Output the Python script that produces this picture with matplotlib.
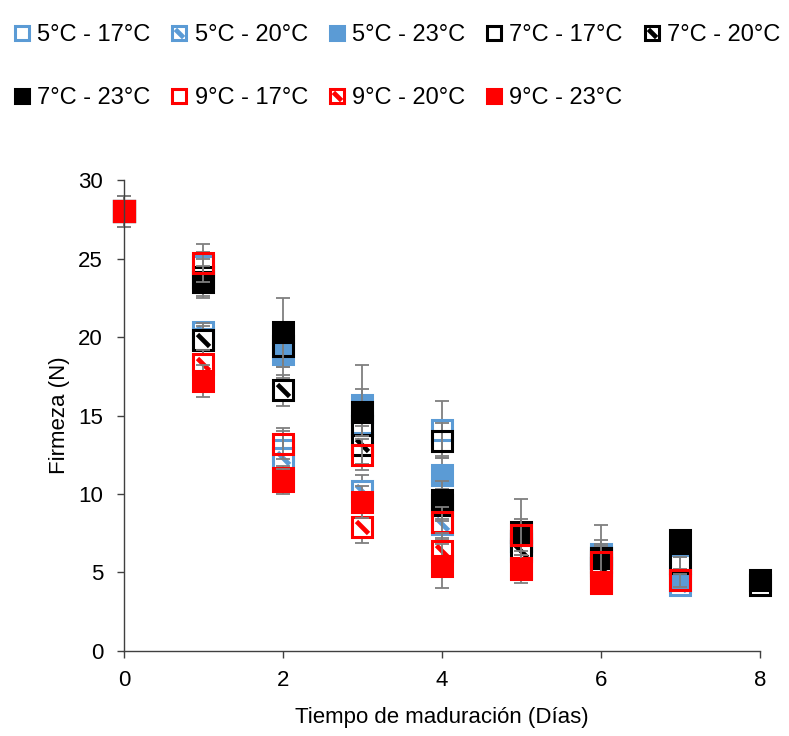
import numpy as np
import matplotlib
matplotlib.use('Agg')
import matplotlib.pyplot as plt
from matplotlib.path import Path

plt.rcParams['font.family'] = ['Liberation Sans', 'DejaVu Sans']

# Tratamientos (conservación - maduración)
labels = ['5°C - 17°C', '5°C - 20°C', '5°C - 23°C',
          '7°C - 17°C', '7°C - 20°C', '7°C - 23°C',
          '9°C - 17°C', '9°C - 20°C', '9°C - 23°C']

dias = [0, 1, 2, 3, 4, 5, 6, 7, 8]
nan = np.nan

# firmeza media (N)
f_5_17 = [28.0, 24.5, 12.8, 14.5, 14.1, 6.8, 5.8, 5.5, nan]
f_5_20 = [28.0, 20.3, 12.3, 10.2, 8.1, 6.5, 5.5, 4.2, nan]
f_5_23 = [28.0, 19.9, 18.9, 15.7, 11.2, 7.0, 6.2, 4.5, nan]
f_7_17 = [28.0, 23.8, 19.4, 14.3, 13.4, 7.0, 5.9, 5.6, 4.2]
f_7_20 = [28.0, 19.8, 16.6, 13.1, 9.3, 6.4, 5.3, nan, nan]
f_7_23 = [28.0, 23.5, 20.3, 15.2, 9.6, 7.6, 5.9, 7.1, 4.5]
f_9_17 = [28.0, 24.7, 13.2, 12.5, 8.2, 7.4, 5.7, 4.5, nan]
f_9_20 = [28.0, 18.3, 11.0, 7.9, 6.4, 5.3, 4.4, nan, nan]
f_9_23 = [28.0, 17.2, 10.8, 9.5, 5.4, 5.2, 4.3, nan, nan]

# desviación estándar (N)
e_5_17 = [1.0, 0.9, 1.2, 1.5, 1.8, 1.0, 0.8, 0.5, nan]
e_5_20 = [1.0, 0.6, 1.5, 1.0, 1.0, 0.8, 0.6, 0.3, nan]
e_5_23 = [1.0, 1.0, 1.5, 2.5, 1.2, 1.2, 0.9, 0.4, nan]
e_7_17 = [1.0, 1.2, 1.3, 1.2, 1.1, 1.0, 0.9, 0.4, 0.3]
e_7_20 = [1.0, 0.9, 1.0, 1.2, 1.0, 0.8, 0.7, nan, nan]
e_7_23 = [1.0, 1.0, 2.2, 1.5, 1.2, 2.1, 2.1, 0.3, 0.5]
e_9_17 = [1.0, 1.2, 1.0, 1.0, 1.0, 1.0, 1.0, 0.4, nan]
e_9_20 = [1.0, 0.9, 0.8, 1.0, 1.1, 0.8, 0.4, nan, nan]
e_9_23 = [1.0, 1.0, 0.8, 1.0, 1.4, 0.9, 0.4, nan, nan]

medias = [f_5_17, f_5_20, f_5_23, f_7_17, f_7_20, f_7_23, f_9_17, f_9_20, f_9_23]
errores = [e_5_17, e_5_20, e_5_23, e_7_17, e_7_20, e_7_23, e_9_17, e_9_20, e_9_23]

azul, negro, rojo = '#5B9BD5', '#000000', '#FF0000'
colores = [azul] * 3 + [negro] * 3 + [rojo] * 3
estilos = ['abierto', 'rayado', 'lleno'] * 3

diag = Path([(-1, 1), (1, -1)], [Path.MOVETO, Path.LINETO])

fig = plt.figure(figsize=(7.89, 7.36), dpi=100)
ax = fig.add_axes([0.157, 0.1155, 0.806, 0.6399])

ms = 14
handles = []
for y, e, c, st, lab in zip(medias, errores, colores, estilos, labels):
    y = np.array(y, dtype=float)
    e = np.array(e, dtype=float)
    ax.errorbar(dias, y, yerr=e, fmt='none', ecolor='#7F7F7F', elinewidth=1.3,
                capsize=5, capthick=1.3)
    if st == 'abierto':
        h, = ax.plot(dias, y, 's', ms=ms, mfc='none', mec=c, mew=2.2, ls='none')
        handles.append(h)
    elif st == 'lleno':
        h, = ax.plot(dias, y, 's', ms=ms, mfc=c, mec=c, mew=2.2, ls='none')
        handles.append(h)
    else:
        h1, = ax.plot(dias, y, 's', ms=ms, mfc='white', mec=c, mew=2.2, ls='none')
        h2, = ax.plot(dias, y, marker=diag, ms=ms * 0.62, mec=c, mew=3.4, ls='none')
        handles.append((h1, h2))

ax.set_xlim(0, 8)
ax.set_ylim(0, 30)
ax.set_xticks([0, 2, 4, 6, 8])
ax.set_yticks([0, 5, 10, 15, 20, 25, 30])
ax.tick_params(labelsize=16, length=5, width=1, color='#404040')
ax.tick_params(axis='y', pad=10)
ax.tick_params(axis='x', pad=9)
for s in ['top', 'right']:
    ax.spines[s].set_visible(False)
for s in ['left', 'bottom']:
    ax.spines[s].set_color('#404040')
    ax.spines[s].set_linewidth(1)
ax.set_xlabel('Tiempo de maduración (Días)', fontsize=16, labelpad=11)
ax.set_ylabel('Firmeza (N)', fontsize=16, labelpad=6)
for art in ax.lines + ax.collections:
    art.set_clip_on(False)

# leyenda en dos filas (orden por filas)
orden = [0, 5, 1, 6, 2, 7, 3, 8, 4]
fig.legend([handles[i] for i in orden], [labels[i] for i in orden],
           loc='upper left', bbox_to_anchor=(0.004, 0.98), ncol=5,
           frameon=False, fontsize=17, markerscale=0.68, handlelength=0.8,
           handletextpad=0.25, columnspacing=0.82, labelspacing=1.75,
           borderaxespad=0)

fig.savefig('out.png', dpi=100)
